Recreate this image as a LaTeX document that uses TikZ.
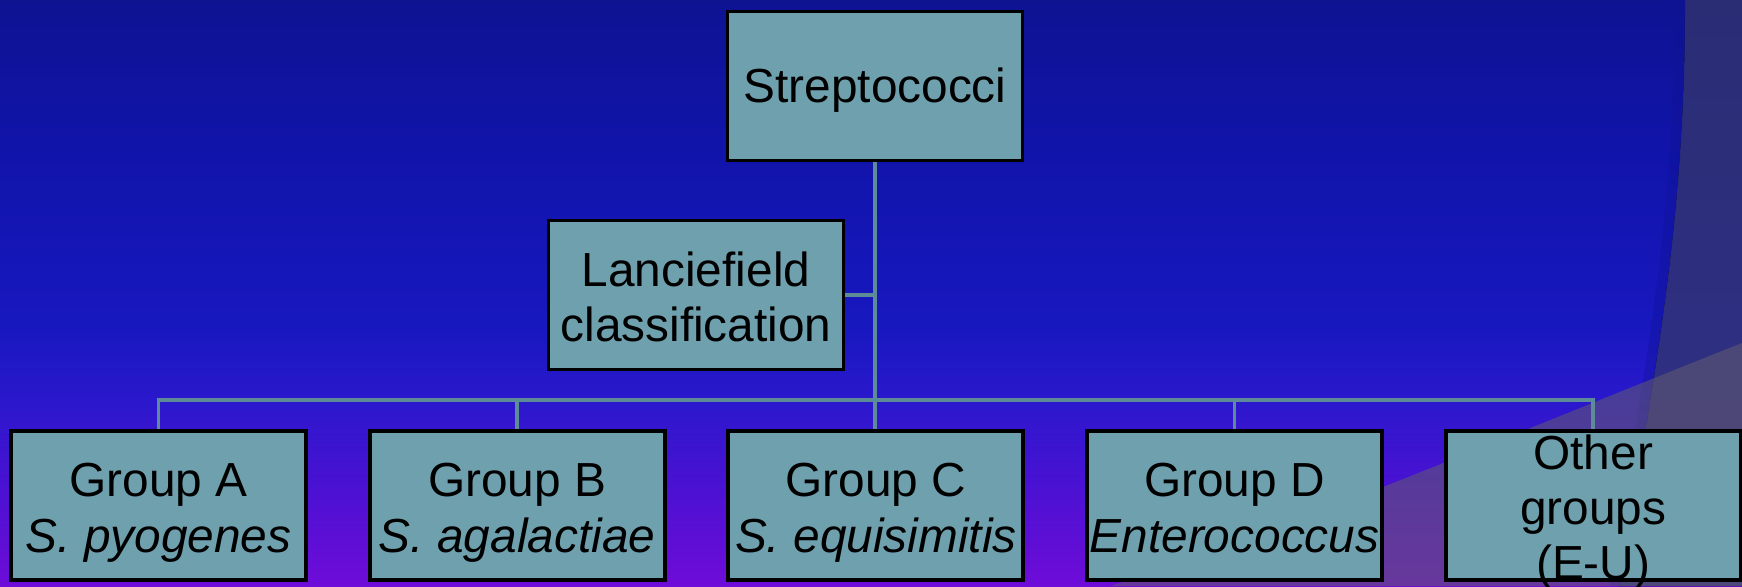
\documentclass[tikz,border=0pt]{standalone}
\usepackage{fontspec}
\setmainfont{Liberation Sans}
\usetikzlibrary{positioning}
\definecolor{slidetop}{RGB}{14,19,146}
\definecolor{slidehigh}{RGB}{17,20,170}
\definecolor{slidemid}{RGB}{24,24,192}
\definecolor{slidelow}{RGB}{42,24,204}
\definecolor{slidedeep}{RGB}{72,18,210}
\definecolor{slidebot}{RGB}{110,12,216}
\definecolor{swoosh}{RGB}{42,45,116}
\definecolor{swooshlow}{RGB}{50,48,138}
\definecolor{veil}{RGB}{99,92,109}
\definecolor{boxfill}{RGB}{111,160,174}
\definecolor{linkcol}{RGB}{93,140,152}
\pgfdeclareverticalshading{slidebg}{100bp}{color(0bp)=(slidebot); color(25bp)=(slidebot);
    color(34bp)=(slidedeep); color(41bp)=(slidelow); color(47bp)=(slidemid);
    color(62bp)=(slidehigh); color(75bp)=(slidetop); color(100bp)=(slidetop)}
\newcommand{\widthbox}{2.95cm}
\newcommand{\heightbox}{1.49cm}
\newcommand{\gapgroup}{0.598cm}
\newcommand{\linestrut}{\rule[-3pt]{0pt}{15.3pt}}
\newcommand{\stacked}[1]{\smash{\raisebox{-1.2pt}{\begin{tabular}{@{}c@{}}#1\end{tabular}}}}
\tikzset{
    common/.style={draw, rectangle, line width=1.1pt, fill=boxfill, inner sep=0pt,
        font=\fontsize{13.6}{15.7}\selectfont, execute at begin node=\linestrut},
    rank/.style={common, minimum width=\widthbox, minimum height=\heightbox},
    link/.style={draw=linkcol, line width=1.1pt},
}
\begin{document}
\begin{tikzpicture}
    \useasboundingbox (0,0) rectangle (17.42,5.86);
    \clip (0,0) rectangle (17.42,5.86);

    % slide background
    \fill[shading=slidebg] (0,0) rectangle (17.42,5.86);
    \fill[top color=swoosh, bottom color=swooshlow]
        (16.85,5.86) .. controls (16.85,3.6) and (16.55,2.2) .. (16.2,0) -- (17.42,0) -- (17.42,5.86) -- cycle;
    \draw[slidetop, line width=3pt, opacity=0.35]
        (16.80,5.86) .. controls (16.80,3.6) and (16.50,2.2) .. (16.15,0);
    \fill[veil, opacity=0.55]
        (11.1,0) .. controls (12.6,0.45) and (15.2,1.55) .. (17.42,2.43) -- (17.42,0) -- cycle;

    % tree
    \node[rank] (strep) at (8.75,5.00) {Streptococci};
    \node[rank] (lance) at (6.96,2.91) {\stacked{Lanciefield\\classification}};

    \node[rank] (grpA) at (1.585,0.805) {\stacked{Group A\\\textit{S. pyogenes}}};
    \node[rank, right=\gapgroup of grpA] (grpB) {\stacked{Group B\\\textit{S. agalactiae}}};
    \node[rank, right=\gapgroup of grpB] (grpC) {\stacked{Group C\\\textit{S. equisimitis}}};
    \node[rank, right=\gapgroup of grpC] (grpD) {\stacked{Group D\\\textit{Enterococcus}}};
    \node[rank, right=\gapgroup of grpD] (grpE) {\stacked{Other\\groups\\(E-U)}};

    \coordinate (bus) at (strep.south |- 0,1.86);

    \draw[link] (strep.south) -- (strep.south |- grpC.north);
    \draw[link] (lance.east) -- (lance.east -| strep.south);
    \foreach \g in {grpA,grpB,grpD,grpE}
        \draw[link] (bus) -| (\g.north);
\end{tikzpicture}
\end{document}
